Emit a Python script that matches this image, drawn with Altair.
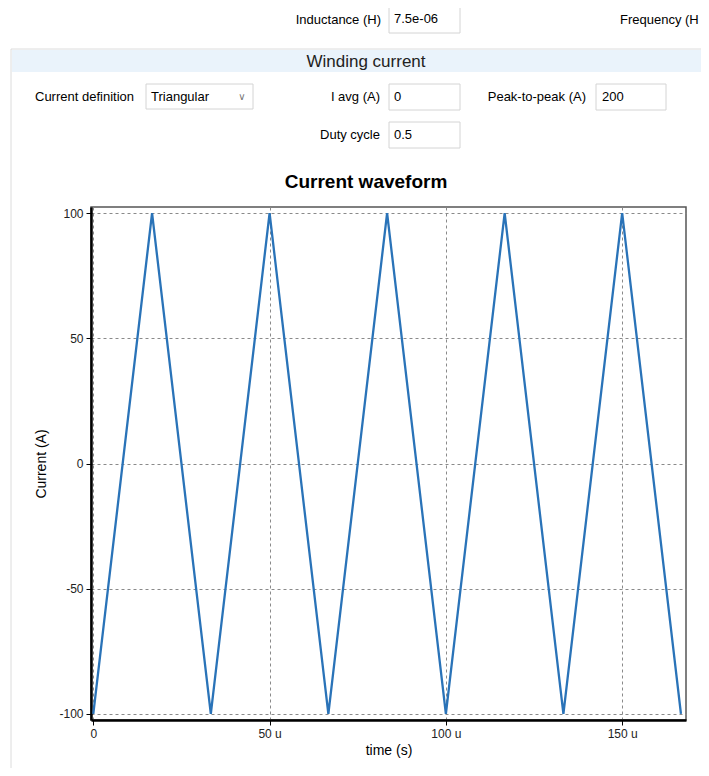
import altair as alt
import pandas as pd

# ---- data ----
time_us = [0.0, 16.67, 33.33, 50.0, 66.67, 83.33, 100.0, 116.67, 133.33, 150.0, 166.67]
current_a = [-100, 100, -100, 100, -100, 100, -100, 100, -100, 100, -100]
x_ticks = [0, 50, 100, 150]
y_ticks = [-100, -50, 0, 50, 100]

df = pd.DataFrame({"t": time_us, "i": current_a})

# plot area origin in page coordinates
OX, OY = 91, 207
W, H = 595, 513
UI_FONT = "Liberation Sans"


def txt(s, x, y, align="left", size=13, weight="normal", color="#000000", font=UI_FONT):
    return alt.Chart(alt.Data(values=[{}])).mark_text(
        text=s, align=align, baseline="middle", fontSize=size,
        fontWeight=weight, color=color, font=font
    ).encode(x=alt.value(x - OX), y=alt.value(y - OY))


def box(x1, y1, x2, y2, fill="#ffffff", stroke="#d4d4d4", sw=1, fo=1):
    return alt.Chart(alt.Data(values=[{}])).mark_rect(
        fill=fill, fillOpacity=fo, stroke=stroke, strokeWidth=sw
    ).encode(x=alt.value(x1 - OX), x2=alt.value(x2 - OX),
             y=alt.value(y1 - OY), y2=alt.value(y2 - OY))


line = alt.Chart(df).mark_line(color="#2a73b8", strokeWidth=2.3).encode(
    x=alt.X("t:Q", scale=alt.Scale(domain=[-0.65, 168.1], nice=False, zero=False),
            axis=alt.Axis(values=x_ticks, title="time (s)",
                          labelExpr="datum.value == 0 ? '0' : datum.value + ' u'")),
    y=alt.Y("i:Q", scale=alt.Scale(domain=[-102.4, 102.4], nice=False, zero=False),
            axis=alt.Axis(values=y_ticks, title="Current (A)",
                          labelExpr="datum.value < 0 ? '-' + abs(datum.value) : '' + datum.value")),
)

decor = [
    # panel (border only)
    box(11, 49, 760, 800, fill="#ffffff", stroke="#dcdcdc", fo=0),
    box(12, 50, 760, 72, fill="#eaf3fb", stroke="#eaf3fb", sw=0),
    txt("Winding current", 366, 62, align="center", size=17, color="#222222"),
    # top row
    txt("Inductance (H)", 381, 20, align="right"),
    box(389, 6, 460, 33),
    txt("7.5e-06", 394, 19),
    txt("Frequency (H", 620, 20),
    # current definition
    txt("Current definition", 35, 97),
    box(146, 84, 253, 109),
    txt("Triangular", 151, 97),
    txt("\u2228", 242, 97, align="center", size=10, color="#777777", font="DejaVu Sans"),
    txt("I avg (A)", 380, 97, align="right"),
    box(389, 84, 460, 110),
    txt("0", 394, 97),
    txt("Peak-to-peak (A)", 586, 97, align="right"),
    box(596, 84, 666, 110),
    txt("200", 602, 97),
    txt("Duty cycle", 380, 135, align="right"),
    box(389, 122, 460, 148),
    txt("0.5", 394, 135),
    # chart title
    txt("Current waveform", 366, 182, align="center", size=19, weight="bold"),
]

chart = alt.layer(*decor, line).properties(
    width=W, height=H,
    autosize=alt.AutoSizeParams(type="none"),
    padding={"left": OX - 8, "top": OY - 8, "right": 693 - (OX - 8) - W, "bottom": 760 - (OY - 8) - H},
    background="#ffffff",
).configure_view(
    stroke="#555555", strokeWidth=1.5
).configure_axis(
    domainColor="#000000", domainWidth=2.5,
    tickColor="#000000", tickSize=5, tickWidth=1,
    grid=True, gridColor="#8a8a8a", gridDash=[3, 3], gridWidth=1,
    labelFont=UI_FONT, labelFontSize=12, labelColor="#222222",
    titleFont=UI_FONT, titleFontSize=14, titleFontWeight="normal", titleColor="#000000",
).configure_axisY(
    titlePadding=10, labelPadding=3
).configure_axisX(
    titlePadding=4, labelPadding=3
)

chart.save("out.html", embed_options={"renderer": "svg", "actions": False})
